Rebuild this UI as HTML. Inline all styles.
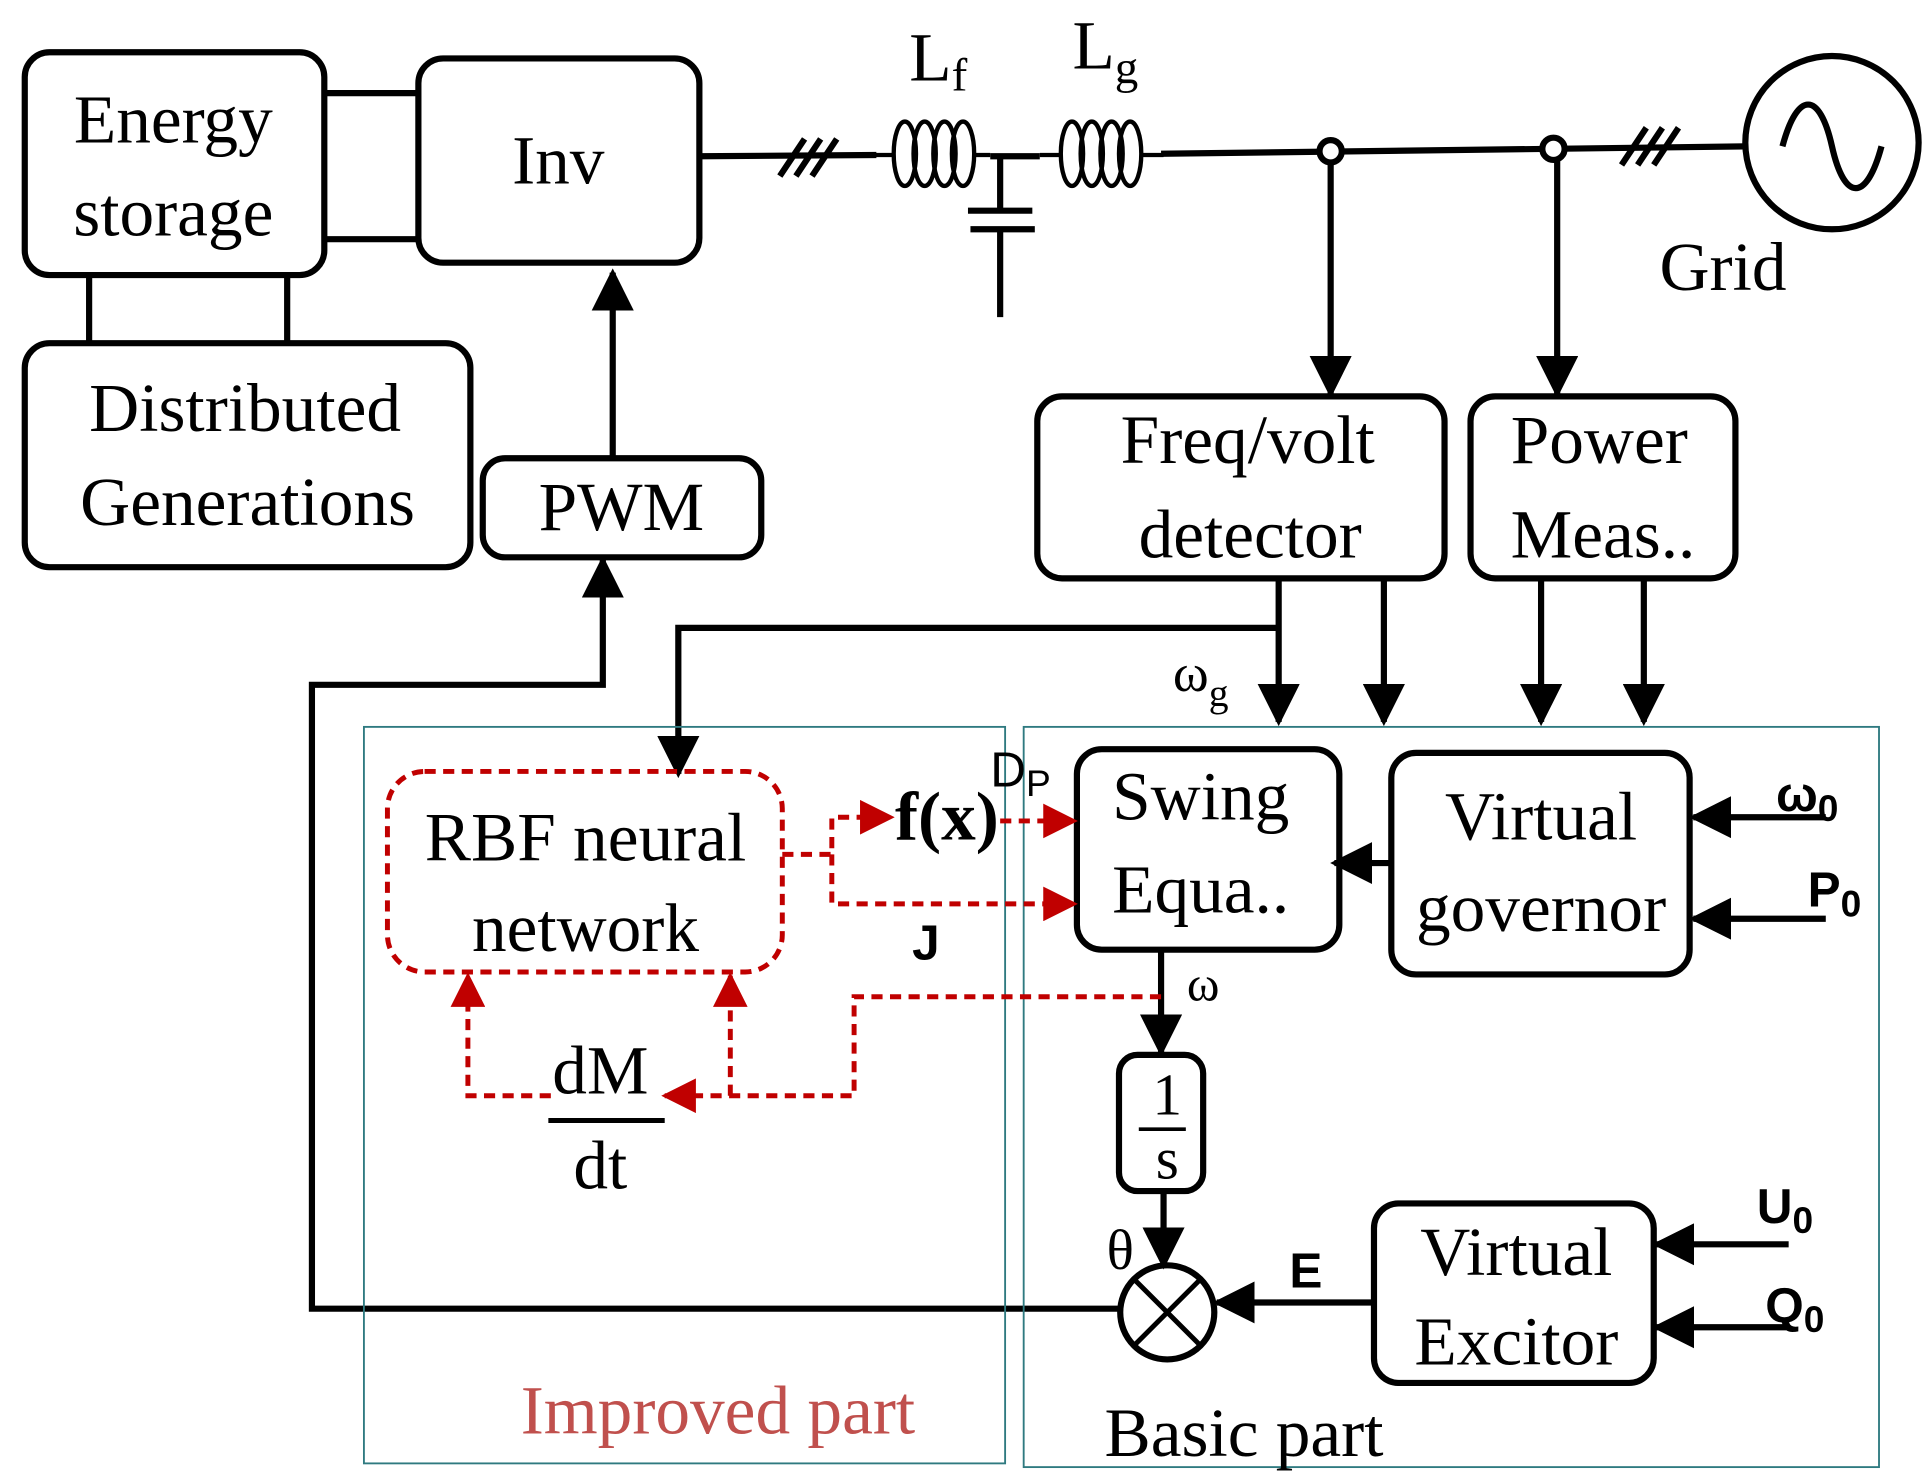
<!DOCTYPE html>
<html><head><meta charset="utf-8"><style>
html,body{margin:0;padding:0;background:#fff}
svg{display:block}
.s{font-family:"Liberation Serif",serif}
.b{font-family:"Liberation Sans",sans-serif;font-weight:bold}
</style></head><body>
<svg width="1931" height="1481" viewBox="0 0 1560 1196" xmlns="http://www.w3.org/2000/svg">
<defs>
<marker id="ak" viewBox="0 0 10 10" refX="9" refY="5" markerWidth="34" markerHeight="34" orient="auto" markerUnits="userSpaceOnUse"><path d="M0,0 L10,5 L0,10 z" fill="#000"/></marker>
<marker id="ar" viewBox="0 0 10 10" refX="9" refY="5" markerWidth="28" markerHeight="28" orient="auto" markerUnits="userSpaceOnUse"><path d="M0,0 L10,5 L0,10 z" fill="#c00000"/></marker>
</defs>
<g fill="none" stroke="#000" stroke-width="5">
<rect x="20" y="42" width="242" height="180" rx="20"/>
<rect x="338" y="47" width="227" height="165" rx="20"/>
<line x1="262" y1="75" x2="338" y2="75"/><line x1="262" y1="193" x2="338" y2="193"/>
<rect x="20" y="277" width="360" height="181" rx="20"/>
<line x1="72" y1="222" x2="72" y2="277"/><line x1="232" y1="222" x2="232" y2="277"/>
<rect x="390" y="370" width="225" height="80" rx="18"/>
<line x1="495" y1="370" x2="495" y2="220" marker-end="url(#ak)"/>
<line x1="565" y1="126" x2="708" y2="125"/>
<line x1="630" y1="142" x2="650" y2="112"/><line x1="643" y1="142" x2="663" y2="112"/><line x1="656" y1="142" x2="676" y2="112"/>
<g stroke-width="3.5">
<line x1="706" y1="125" x2="722" y2="125"/>
<ellipse cx="731" cy="124" rx="9" ry="26"/><ellipse cx="747" cy="124" rx="9" ry="26"/><ellipse cx="763" cy="124" rx="9" ry="26"/><ellipse cx="778" cy="124" rx="9" ry="26"/>
<line x1="786" y1="125" x2="800" y2="125"/>
<line x1="840" y1="125" x2="858" y2="125"/>
<ellipse cx="866" cy="124" rx="9" ry="26"/><ellipse cx="882" cy="124" rx="9" ry="26"/><ellipse cx="898" cy="124" rx="9" ry="26"/><ellipse cx="913" cy="124" rx="9" ry="26"/>
<line x1="921" y1="125" x2="940" y2="125"/>
</g>
<line x1="800" y1="126" x2="840" y2="126"/>
<line x1="808" y1="126" x2="808" y2="170"/><line x1="782" y1="170" x2="834" y2="170"/><line x1="784" y1="185" x2="836" y2="185"/><line x1="808" y1="185" x2="808" y2="256"/>
<line x1="938" y1="124" x2="1410" y2="118"/>
<line x1="1310" y1="133" x2="1330" y2="103"/><line x1="1323" y1="133" x2="1343" y2="103"/><line x1="1336" y1="133" x2="1356" y2="103"/>
<circle cx="1480" cy="115" r="70"/>
<path d="M1440,118 c12,-45 30,-45 40,0 c10,45 28,45 40,0" stroke-width="5"/>
<line x1="1075" y1="122" x2="1075" y2="318" marker-end="url(#ak)"/>
<line x1="1258" y1="120" x2="1258" y2="318" marker-end="url(#ak)"/>
<circle cx="1075" cy="122" r="9" fill="#fff"/><circle cx="1255" cy="120" r="9" fill="#fff"/>
<rect x="838" y="320" width="329" height="147" rx="20"/>
<rect x="1188" y="320" width="214" height="147" rx="20"/>
<line x1="1033" y1="467" x2="1033" y2="583" marker-end="url(#ak)"/>
<polyline points="1033,507 548,507 548,625" marker-end="url(#ak)"/>
<line x1="1118" y1="467" x2="1118" y2="583" marker-end="url(#ak)"/>
<line x1="1245" y1="467" x2="1245" y2="583" marker-end="url(#ak)"/>
<line x1="1328" y1="467" x2="1328" y2="583" marker-end="url(#ak)"/>
<rect x="870" y="605" width="212" height="162" rx="20"/>
<rect x="1124" y="608" width="241" height="179" rx="20"/>
<line x1="1124" y1="697" x2="1078" y2="697" marker-end="url(#ak)"/>
<line x1="1475" y1="660" x2="1368" y2="660" marker-end="url(#ak)"/>
<line x1="1475" y1="742" x2="1368" y2="742" marker-end="url(#ak)"/>
<line x1="938" y1="767" x2="938" y2="850" marker-end="url(#ak)"/>
<rect x="904" y="852" width="68" height="110" rx="15"/>
<line x1="920" y1="912" x2="958" y2="912" stroke-width="3"/>
<line x1="940" y1="962" x2="940" y2="1022" marker-end="url(#ak)"/>
<circle cx="943" cy="1060" r="38"/>
<line x1="916" y1="1033" x2="970" y2="1087" stroke-width="4"/><line x1="970" y1="1033" x2="916" y2="1087" stroke-width="4"/>
<rect x="1110" y="972" width="226" height="145" rx="20"/>
<line x1="1110" y1="1052" x2="983" y2="1052" marker-end="url(#ak)"/>
<line x1="1445" y1="1005" x2="1338" y2="1005" marker-end="url(#ak)"/>
<line x1="1445" y1="1072" x2="1338" y2="1072" marker-end="url(#ak)"/>
<polyline points="905,1057 252,1057 252,553 487,553 487,452" marker-end="url(#ak)"/>
<line x1="443" y1="905" x2="537" y2="905" stroke-width="4"/>
</g>
<g fill="none" stroke="#2f7a80" stroke-width="1.5">
<rect x="294" y="587" width="518" height="595"/>
<rect x="827" y="587" width="691" height="598"/>
</g>
<g fill="none" stroke="#c00000" stroke-width="4" stroke-dasharray="9,6">
<rect x="313" y="623" width="319" height="162" rx="30"/>
<polyline points="632,690 672,690 672,660 720,660" marker-end="url(#ar)"/>
<polyline points="672,690 672,730 868,730" marker-end="url(#ar)"/>
<line x1="808" y1="663" x2="868" y2="663" marker-end="url(#ar)"/>
<polyline points="938,805 690,805 690,885 537,885" marker-end="url(#ar)"/>
<line x1="590" y1="885" x2="590" y2="788" marker-end="url(#ar)"/>
<polyline points="445,885 378,885 378,788" marker-end="url(#ar)"/>
</g>
<g class="s" font-size="56" fill="#000" text-anchor="middle">
<text x="140" y="115">Energy</text><text x="140" y="190">storage</text>
<text x="451" y="148">Inv</text>
<text x="198" y="348">Distributed</text><text x="200" y="424">Generations</text>
<text x="502" y="428">PWM</text>
<text x="1008" y="374">Freq/volt</text><text x="1010" y="450">detector</text>
<text x="1292" y="374">Power</text><text x="1295" y="450">Meas..</text>
<text x="970" y="662">Swing</text><text x="970" y="737">Equa..</text>
<text x="1245" y="678">Virtual</text><text x="1245" y="752">governor</text>
<text x="1225" y="1030">Virtual</text><text x="1225" y="1102">Excitor</text>
<text x="473" y="695">RBF neural</text><text x="473" y="768">network</text>
<text x="485" y="883">dM</text><text x="485" y="960">dt</text>
<text x="943" y="900" font-size="48">1</text><text x="943" y="952" font-size="48">s</text>
<text x="1392" y="234">Grid</text>
<text x="1005" y="1176">Basic part</text>
<text x="580" y="1158" fill="#c0504d">Improved part</text>
<text x="758" y="65">L<tspan font-size="38" dy="8">f</tspan></text>
<text x="893" y="55">L<tspan font-size="38" dy="12">g</tspan></text>
<text x="970" y="558" font-size="44">ω<tspan font-size="32" dy="12">g</tspan></text>
<text x="972" y="808" font-size="40">ω</text>
<text x="905" y="1025" font-size="46">θ</text>
<text x="765" y="678" font-weight="bold">f(x)</text>
</g>
<g class="b" font-size="40" fill="#000" text-anchor="middle">
<text x="1460" y="655">ω<tspan font-size="30" dy="8">0</tspan></text>
<text x="1482" y="732">P<tspan font-size="30" dy="8">0</tspan></text>
<text x="1442" y="988">U<tspan font-size="30" dy="8">0</tspan></text>
<text x="1450" y="1068">Q<tspan font-size="30" dy="8">0</tspan></text>
<text x="1055" y="1040">E</text>
<text x="748" y="775">J</text>
</g>
<text x="800" y="635" font-family="Liberation Sans,sans-serif" font-size="40" fill="#000">D<tspan font-size="30" dy="8">P</tspan></text>
</svg>
</body></html>
